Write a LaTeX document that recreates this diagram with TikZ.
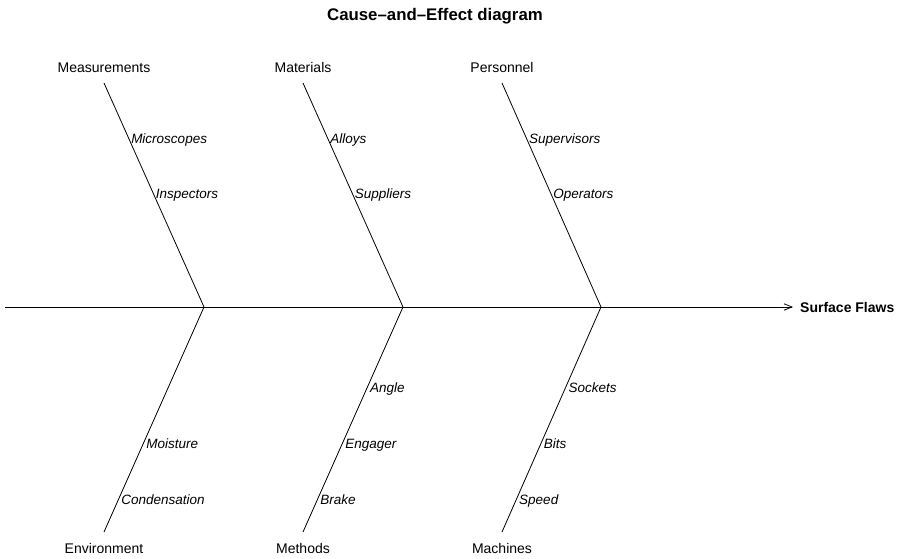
\documentclass[tikz,border=0pt]{standalone}
\usepackage{fontspec}
\setmainfont{Liberation Sans}
\usetikzlibrary{arrows.meta,calc}

\begin{document}
\begin{tikzpicture}[x=1pt,y=-1pt,
  bone/.style={line width=0.8pt},
  cat/.style={font=\fontsize{14}{16}\selectfont, inner sep=0pt},
  sub/.style={font=\fontsize{13.5}{16}\selectfont\itshape, anchor=base west, inner sep=0pt, xshift=2.5pt, yshift=-5.5pt},
  ttl/.style={font=\fontsize{16.8}{20}\selectfont\bfseries, inner sep=0pt}]
\useasboundingbox (0,0) rectangle (900,559);

% spine and joints
\coordinate (s0) at (5,307);
\node[font=\fontsize{14}{16}\selectfont\bfseries, anchor=west, inner sep=0pt] (effect) at (800,307) {Surface Flaws};
\coordinate (s1) at (793,307);
\coordinate (j1) at (204,307);
\coordinate (j2) at (403,307);
\coordinate (j3) at (601,307);

% bone ends
\coordinate (t1) at (104,83);
\coordinate (t2) at (303,83);
\coordinate (t3) at (502,83);
\coordinate (b1) at (104,532);
\coordinate (b2) at (303,532);
\coordinate (b3) at (502,532);

\node[ttl] (title) at (435,16) {Cause–and–Effect diagram};

\draw[bone, -{Straight Barb[length=8pt,width=6.5pt,line width=0.8pt]}] (s0) -- (s1);

\foreach \i in {1,2,3} {
  \draw[bone] (t\i) -- (j\i);
  \draw[bone] (b\i) -- (j\i);
}

% category labels
\node[cat] (meas) at (104,67.5) {Measurements};
\node[cat] (mat)  at (303,67.5) {Materials};
\node[cat] (pers) at (502,67.5) {Personnel};
\node[cat] (env)  at (104,548) {Environment};
\node[cat] (meth) at (303,548) {Methods};
\node[cat] (mach) at (502,548) {Machines};

% causes on the upper bones
\node[sub] (c11) at ($(t1)!0.2455!(j1)$) {Microscopes};
\node[sub] (c12) at ($(t1)!0.491!(j1)$)  {Inspectors};
\node[sub] (c21) at ($(t2)!0.2455!(j2)$) {Alloys};
\node[sub] (c22) at ($(t2)!0.491!(j2)$)  {Suppliers};
\node[sub] (c31) at ($(t3)!0.2455!(j3)$) {Supervisors};
\node[sub] (c32) at ($(t3)!0.491!(j3)$)  {Operators};

% causes on the lower bones
\node[sub] (d11) at ($(j1)!0.604!(b1)$)  {Moisture};
\node[sub] (d12) at ($(j1)!0.8533!(b1)$) {Condensation};
\node[sub] (d21) at ($(j2)!0.3556!(b2)$) {Angle};
\node[sub] (d22) at ($(j2)!0.604!(b2)$)  {Engager};
\node[sub] (d23) at ($(j2)!0.8533!(b2)$) {Brake};
\node[sub] (d31) at ($(j3)!0.3556!(b3)$) {Sockets};
\node[sub] (d32) at ($(j3)!0.604!(b3)$)  {Bits};
\node[sub] (d33) at ($(j3)!0.8533!(b3)$) {Speed};
\end{tikzpicture}
\end{document}
